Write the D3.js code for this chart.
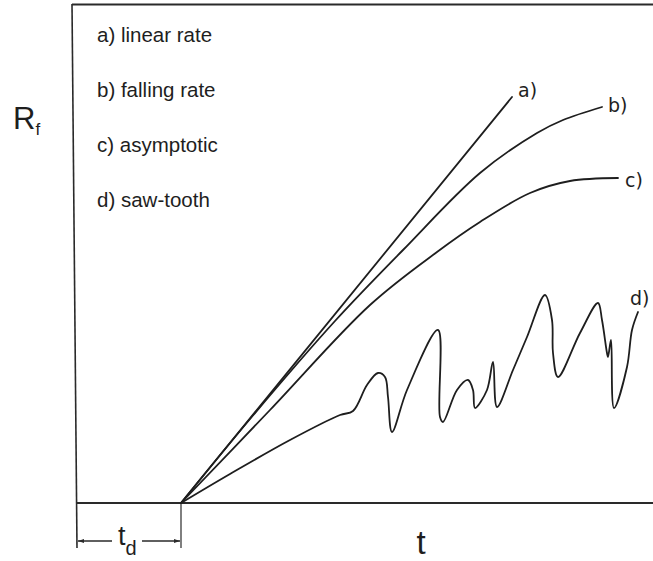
<!DOCTYPE html>
<html>
<head>
<meta charset="utf-8">
<script src="https://cdn.jsdelivr.net/npm/d3@7"></script>
<style>
  html, body { margin: 0; padding: 0; background: #fff; }
  svg { display: block; }
</style>
</head>
<body>
<svg id="chart" width="653" height="561"></svg>
<script>
// ---- data (arbitrary units; t_d = 10.4) ----
const legendLabels = ["a) linear rate", "b) falling rate", "c) asymptotic", "d) saw-tooth"];
const curveLabels = ["a)", "b)", "c)", "d)"];
const tDelay = 10.4;

const aT  = [10.4, 43.5];
const aRf = [0, 40.6];

const bT  = [10.4, 17.3, 25.8, 32.6, 40.3, 46.0, 48.6, 52.5];
const bRf = [0, 8.4, 18.2, 25.3, 33.0, 37.0, 38.3, 39.6];

const cT  = [10.4, 19.3, 29.3, 36.0, 40.3, 45.3, 49.3, 54.1];
const cRf = [0, 9.3, 19.8, 25.1, 28.1, 31.0, 32.2, 32.5];

const dT  = [10.4, 15.3, 21.3, 26.3, 27.6, 29.0, 30.1, 30.8, 31.1, 31.5, 33.0, 36.1, 36.3, 36.6, 38.0, 39.1, 39.6, 39.8, 41.0, 41.6, 42.0, 43.6, 45.0, 46.8, 47.5, 47.6, 48.1, 50.3, 52.1, 52.5, 53.0, 53.1, 53.4, 53.7, 55.0, 55.5, 56.1];
const dRf = [0, 2.9, 6.3, 8.8, 9.2, 11.8, 13.0, 12.6, 10.6, 7.1, 11.3, 17.3, 8.6, 8.1, 11.3, 12.3, 11.3, 9.5, 11.3, 14.1, 9.6, 13.3, 16.6, 20.8, 18.3, 15.0, 12.6, 17.0, 20.0, 18.3, 15.0, 14.6, 16.3, 9.5, 13.6, 17.3, 19.1];

const tMax = 57.6, rfMax = 50;

// ---- scales ----
const svg = d3.select("#chart");
const x = d3.scaleLinear().domain([0, tMax]).range([77, 653]);
const y = d3.scaleLinear().domain([0, rfMax]).range([503, 3]);

const ink = "#1e1e1e";
const frameInk = "#2a2a2a";

svg.append("rect").attr("width", 653).attr("height", 561).attr("fill", "#fff");

// ---- frame ----
svg.append("line")
  .attr("x1", x(-0.5)).attr("y1", y(rfMax) + 1)
  .attr("x2", x(0)).attr("y2", y(0) + 45)
  .attr("stroke", frameInk).attr("stroke-width", 1.6);
svg.append("line")
  .attr("x1", x(-0.5)).attr("y1", y(rfMax) + 1.5)
  .attr("x2", x(tMax)).attr("y2", y(rfMax) + 1.5)
  .attr("stroke", frameInk).attr("stroke-width", 2);
svg.append("line")
  .attr("x1", x(0)).attr("y1", y(0))
  .attr("x2", x(tMax)).attr("y2", y(0))
  .attr("stroke", frameInk).attr("stroke-width", 1.8);

// t_d marker tick
svg.append("line")
  .attr("x1", x(tDelay)).attr("y1", y(0))
  .attr("x2", x(tDelay)).attr("y2", y(0) + 45)
  .attr("stroke", frameInk).attr("stroke-width", 1.2);

// arrows for t_d
const defs = svg.append("defs");
defs.append("marker").attr("id", "arr")
  .attr("viewBox", "0 0 10 10").attr("refX", 10).attr("refY", 5)
  .attr("markerWidth", 9).attr("markerHeight", 6).attr("orient", "auto")
  .attr("markerUnits", "userSpaceOnUse")
  .append("path").attr("d", "M0,1.5 L10,5 L0,8.5 Z").attr("fill", frameInk);

const arrowY = y(0) + 38;
svg.append("line")
  .attr("x1", x(3.5)).attr("y1", arrowY)
  .attr("x2", x(0) + 1).attr("y2", arrowY)
  .attr("stroke", frameInk).attr("stroke-width", 1.3)
  .attr("marker-end", "url(#arr)");
svg.append("line")
  .attr("x1", x(6.5)).attr("y1", arrowY)
  .attr("x2", x(tDelay) - 1).attr("y2", arrowY)
  .attr("stroke", frameInk).attr("stroke-width", 1.3)
  .attr("marker-end", "url(#arr)");

// t_d label
const td = svg.append("text")
  .attr("x", x(tDelay / 2) - 11).attr("y", y(0) + 42)
  .attr("font-family", "'Liberation Sans Narrow', 'Liberation Sans', sans-serif")
  .attr("font-size", 27).attr("fill", ink);
td.append("tspan").text("t");
td.append("tspan").attr("font-size", 20).attr("dy", 10).text("d");

// t label
svg.append("text")
  .attr("x", x(34.4)).attr("y", y(0) + 51)
  .attr("text-anchor", "middle")
  .attr("font-family", "'Liberation Sans Narrow', 'Liberation Sans', sans-serif")
  .attr("font-size", 33).attr("fill", ink)
  .text("t");

// R_f label
const rf = svg.append("text")
  .attr("x", 13).attr("y", 129)
  .attr("font-family", "'Liberation Sans Narrow', 'Liberation Sans', sans-serif")
  .attr("font-size", 31).attr("fill", ink);
rf.append("tspan").text("R");
rf.append("tspan").attr("font-size", 17).attr("dy", 6).text("f");

// ---- legend text ----
svg.selectAll("text.legend")
  .data(legendLabels)
  .join("text")
  .attr("class", "legend")
  .attr("x", 97)
  .attr("y", (d, i) => 42 + i * 55)
  .attr("font-family", "'Liberation Sans', Arial, sans-serif")
  .attr("font-size", 20.5)
  .attr("fill", ink)
  .text(d => d);

// ---- curves ----
const line = d3.line()
  .x(d => x(d[0]))
  .y(d => y(d[1]))
  .curve(d3.curveCatmullRom.alpha(0.5));

const series = [
  { t: aT, rf: aRf, off: [6, 0] },
  { t: bT, rf: bRf, off: [6, 5] },
  { t: cT, rf: cRf, off: [7, 9] },
  { t: dT, rf: dRf, off: [-8, -7] }
];

series.forEach((s, i) => {
  const pts = s.t.map((tv, k) => [tv, s.rf[k]]);
  svg.append("path")
    .attr("d", line(pts))
    .attr("fill", "none")
    .attr("stroke", ink)
    .attr("stroke-width", 1.8)
    .attr("stroke-linejoin", "round")
    .attr("stroke-linecap", "round");
  const last = pts[pts.length - 1];
  svg.append("text")
    .attr("x", x(last[0]) + s.off[0])
    .attr("y", y(last[1]) + s.off[1])
    .attr("font-family", "'DejaVu Sans', sans-serif")
    .attr("font-size", 19)
    .attr("fill", ink)
    .text(curveLabels[i]);
});
</script>
</body>
</html>
